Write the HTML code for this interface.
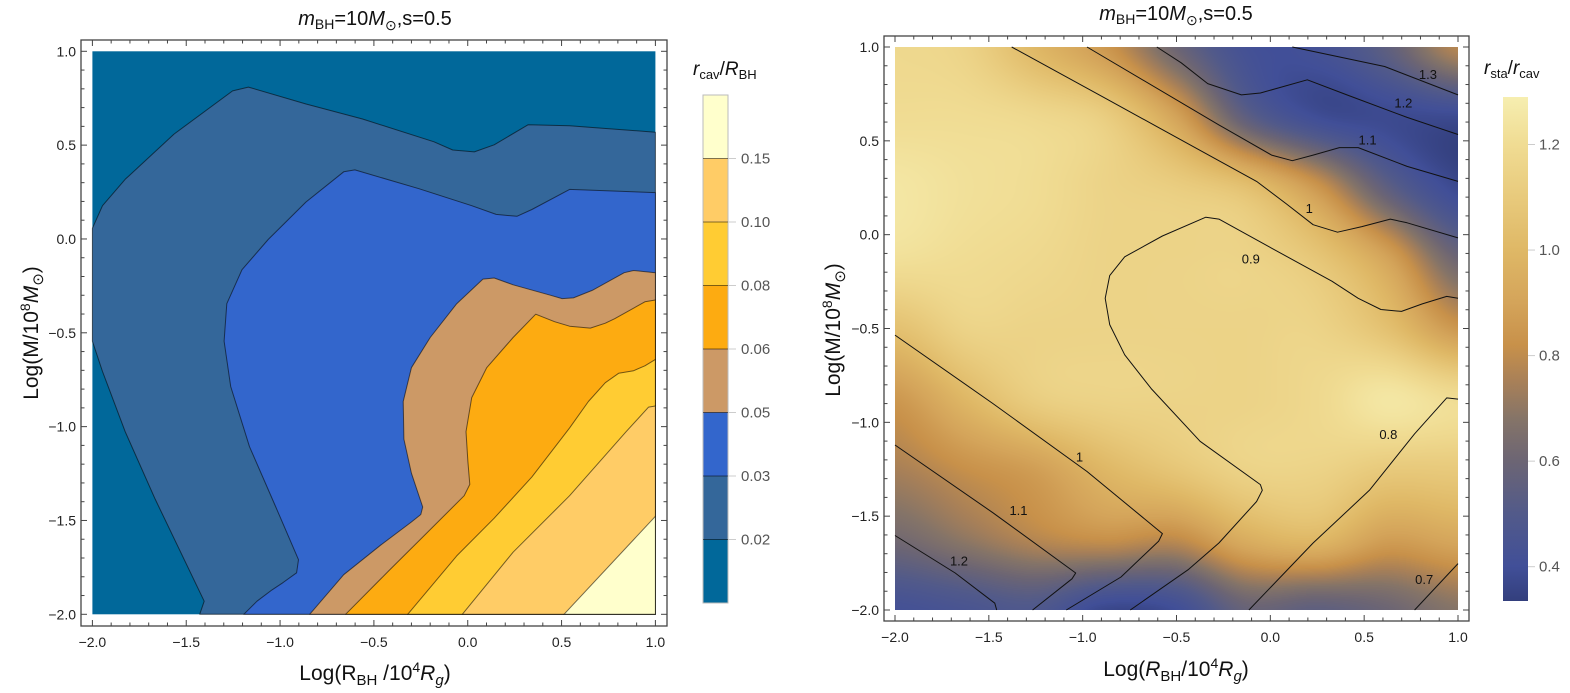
<!DOCTYPE html>
<html><head><meta charset="utf-8">
<style>
html,body{margin:0;padding:0;background:#fff;}
#wrap{position:relative;width:1570px;height:693px;overflow:hidden;font-family:"Liberation Sans",Arial,sans-serif;}
#heat{position:absolute;left:895px;top:47px;width:563px;height:563px;}
#svg{position:absolute;left:0;top:0;}
</style></head>
<body>
<div id="wrap">
<canvas id="heat" width="563" height="563"></canvas>
<svg id="svg" width="1570" height="693" xmlns="http://www.w3.org/2000/svg"></svg>
</div>
<script>
// ---------- LEFT PANEL DATA (contour boundaries, data coords [logR, logM]) ----------
const leftLevels = ["0.02","0.03","0.05","0.06","0.08","0.10","0.15"];
const leftColors = ["#01689a","#34679a","#3366cc","#cc9966","#fdab11","#ffcc33","#ffcc66","#ffffcc"];
const bnd002Upper = [[-2,0.057],[-1.946,0.177],[-1.825,0.318],[-1.565,0.559],[-1.253,0.789],[-1.169,0.809],[-0.862,0.719],[-0.561,0.639],[-0.18,0.518],[-0.08,0.474],[0.035,0.464],[0.141,0.502],[0.322,0.609],[0.543,0.603],[1,0.569]];
const bnd002Lower = [[-1.428,-2],[-1.404,-1.93],[-1.665,-1.388],[-1.825,-1.027],[-1.946,-0.706],[-2,-0.545]];
const bnd003 = [[1,0.247],[0.543,0.264],[0.342,0.157],[0.262,0.121],[0.151,0.131],[0.021,0.177],[-0.26,0.268],[-0.601,0.368],[-0.661,0.358],[-0.862,0.197],[-1.063,-0.003],[-1.203,-0.164],[-1.284,-0.345],[-1.298,-0.545],[-1.263,-0.786],[-1.163,-1.107],[-1.023,-1.428],[-0.902,-1.709],[-0.912,-1.779],[-0.983,-1.83],[-1.043,-1.87],[-1.123,-1.93],[-1.193,-2]];
const bnd005 = [[1,-0.18],[0.884,-0.168],[0.834,-0.18],[0.663,-0.274],[0.563,-0.314],[0.503,-0.318],[0.442,-0.3],[0.242,-0.244],[0.141,-0.208],[0.081,-0.214],[-0.059,-0.345],[-0.2,-0.525],[-0.3,-0.686],[-0.344,-0.866],[-0.34,-1.067],[-0.3,-1.248],[-0.24,-1.428],[-0.25,-1.468],[-0.3,-1.508],[-0.461,-1.629],[-0.661,-1.789],[-0.842,-2]];
const bnd006 = [[1,-0.325],[0.944,-0.335],[0.783,-0.425],[0.733,-0.449],[0.653,-0.475],[0.543,-0.465],[0.463,-0.441],[0.362,-0.401],[0.242,-0.525],[0.101,-0.686],[0.021,-0.846],[-0.009,-1.027],[0.001,-1.187],[0.011,-1.308],[-0.019,-1.368],[-0.26,-1.609],[-0.421,-1.769],[-0.651,-2]];
const bnd008 = [[1,-0.642],[0.944,-0.676],[0.884,-0.702],[0.804,-0.716],[0.733,-0.766],[0.643,-0.866],[0.543,-1.007],[0.342,-1.268],[0.141,-1.488],[-0.059,-1.689],[-0.32,-2]];
const bnd010 = [[1,-0.89],[0.964,-0.896],[0.844,-1.027],[0.543,-1.368],[0.242,-1.669],[-0.029,-2]];
const bnd015 = [[1,-1.478],[0.513,-2]];

// ---------- RIGHT PANEL DATA ----------
const heatXs = [-2,-1.625,-1.25,-0.875,-0.5,-0.125,0.25,0.625,1];
const heatYs = [1,0.625,0.25,-0.125,-0.5,-0.875,-1.25,-1.625,-2];
const heatRow0 = [1.18,1.15,1.0,0.85,0.6,0.42,0.42,0.55,0.78];
const heatRow1 = [1.2,1.2,1.18,1.12,0.9,0.55,0.4,0.38,0.38];
const heatRow2 = [1.25,1.22,1.2,1.15,1.12,1.05,0.85,0.55,0.38];
const heatRow3 = [1.22,1.2,1.18,1.15,1.15,1.15,1.08,0.9,0.6];
const heatRow4 = [1.05,1.15,1.15,1.15,1.15,1.15,1.15,1.05,0.85];
const heatRow5 = [0.85,1.0,1.12,1.15,1.15,1.15,1.18,1.25,1.2];
const heatRow6 = [0.75,0.82,0.88,1.0,1.08,1.15,1.15,1.1,1.1];
const heatRow7 = [0.62,0.7,0.78,0.82,0.8,0.95,1.0,0.88,0.92];
const heatRow8 = [0.42,0.45,0.48,0.37,0.4,0.58,0.55,0.6,0.68];
const heatRows = [heatRow0,heatRow1,heatRow2,heatRow3,heatRow4,heatRow5,heatRow6,heatRow7,heatRow8];
const cmapVals = [0.335,0.4,0.5,0.6,0.68,0.75,0.82,0.9,1.0,1.1,1.2,1.29];
const cmapCols = ["#333f7d","#414f98","#525a8a","#6c6574","#857468","#a88058","#c8914a","#d4a45a","#dfb866","#e8ca7c","#f0dc93","#f6eeb0"];
const cbTicks = [0.4,0.6,0.8,1.0,1.2];

const c13 = [[0.117,1],[0.609,0.896],[1,0.745]];
const c12a = [[-0.605,1],[-0.475,0.916],[-0.334,0.805],[-0.154,0.745],[-0.053,0.755],[0.197,0.825],[0.408,0.745],[0.729,0.625],[1,0.534]];
const c11a = [[-0.977,1],[-0.274,0.585],[0.007,0.424],[0.117,0.394],[0.228,0.424],[0.368,0.464],[0.468,0.464],[0.729,0.364],[1,0.284]];
const c10a = [[-1.378,1],[-0.876,0.725],[-0.073,0.284],[0.087,0.163],[0.228,0.053],[0.358,0.013],[0.488,0.043],[0.639,0.083],[0.729,0.063],[1,-0.017]];
const c09 = [[1,-0.339],[0.94,-0.329],[0.81,-0.369],[0.699,-0.409],[0.589,-0.399],[0.468,-0.339],[0.328,-0.248],[0.127,-0.138],[-0.274,0.083],[-0.344,0.093],[-0.575,-0.007],[-0.776,-0.118],[-0.856,-0.218],[-0.88,-0.339],[-0.856,-0.479],[-0.776,-0.64],[-0.635,-0.82],[-0.374,-1.101],[-0.053,-1.332],[-0.043,-1.362],[-0.073,-1.422],[-0.274,-1.643],[-0.435,-1.783],[-0.746,-2]];
const c08 = [[1,-0.876],[0.94,-0.87],[0.769,-1.061],[0.528,-1.362],[0.228,-1.643],[-0.114,-2]];
const c07 = [[1,-1.753],[0.769,-2]];
const c10b = [[-2,-0.535],[-1.478,-0.9],[-0.977,-1.262],[-0.575,-1.593],[-0.595,-1.633],[-0.796,-1.824],[-1.087,-2]];
const c11b = [[-2,-1.121],[-1.478,-1.482],[-1.037,-1.803],[-1.057,-1.834],[-1.267,-2]];
const c12b = [[-2,-1.603],[-1.679,-1.803],[-1.468,-1.964],[-1.458,-2]];
const rightContours = [c13,c12a,c11a,c10a,c09,c08,c07,c10b,c11b,c12b];
const labelTexts = ["1.3","1.2","1.1","1","0.9","0.8","0.7","1","1.1","1.2"];
const labelPos = [[0.84,0.855],[0.709,0.705],[0.518,0.508],[0.207,0.143],[-0.104,-0.128],[0.629,-1.061],[0.82,-1.834],[-1.017,-1.181],[-1.342,-1.466],[-1.659,-1.737]];

const majorTicks = [-2,-1.5,-1,-0.5,0,0.5,1];
const majorLabels = ["\u22122.0","\u22121.5","\u22121.0","\u22120.5","0.0","0.5","1.0"];

// ---------- helpers ----------
const NS="http://www.w3.org/2000/svg";
const svg=document.getElementById('svg');
function mk(tag,attrs,parent){const e=document.createElementNS(NS,tag);for(const k in attrs)e.setAttribute(k,attrs[k]);(parent||svg).appendChild(e);return e;}
function axes(x0,y0,size){return {X:x=>x0+(x+2)/3*size,Y:y=>y0+(1-y)/3*size};}
function pts(arr,ax){return arr.map(p=>ax.X(p[0]).toFixed(1)+","+ax.Y(p[1]).toFixed(1)).join(" ");}

function frame(ax,fx0,fy0,fx1,fy1,g){
  const r=mk('rect',{x:fx0,y:fy0,width:fx1-fx0,height:fy1-fy0,fill:'none',stroke:'#444','stroke-width':1.3},g);
  
  for(let i=0;i<=30;i++){
    const v=-2+i*0.1, major=(i%5===0), L=major?6:3.5;
    const x=ax.X(v), y=ax.Y(v);
    mk('line',{x1:x,x2:x,y1:fy1,y2:fy1-L,stroke:'#444','stroke-width':1},g);
    mk('line',{x1:x,x2:x,y1:fy0,y2:fy0+L,stroke:'#444','stroke-width':1},g);
    mk('line',{x1:fx0,x2:fx0+L,y1:y,y2:y,stroke:'#444','stroke-width':1},g);
    mk('line',{x1:fx1,x2:fx1-L,y1:y,y2:y,stroke:'#444','stroke-width':1},g);
  }
  majorTicks.forEach((v,i)=>{
    const t=mk('text',{x:ax.X(v),y:fy1+21,'text-anchor':'middle','font-size':14,fill:'#222'},g);
    
    t.textContent=majorLabels[i];
    const u=mk('text',{x:fx0-5,y:ax.Y(v)+5,'text-anchor':'end','font-size':14,fill:'#222'},g);
    
    u.textContent=majorLabels[i];
  });
}

// ---------- LEFT PANEL ----------
const axL=axes(92.4,51.3,563);
const gL=mk('g',{});
mk('rect',{x:axL.X(-2),y:axL.Y(1),width:563,height:563,fill:leftColors[0]},gL);
const corner=[[1,-2]];
const regions=[
  bnd002Upper.concat([[1,-2]]).concat(bnd002Lower),
  bnd003.concat(corner), bnd005.concat(corner), bnd006.concat(corner),
  bnd008.concat(corner), bnd010.concat(corner), bnd015.concat(corner)
];
regions.forEach((reg,i)=>{
  const p=mk('polygon',{points:pts(reg,axL),fill:leftColors[i+1],stroke:'rgba(0,0,0,0.55)','stroke-width':1,'stroke-linejoin':'round'},gL);
  
  
});
frame(axL,81,40,667,626,gL);

// left colorbar
const gCB=mk('g',{});
const cbTop=95, cbH=63.5;
for(let i=0;i<8;i++){
  const r=mk('rect',{x:703,y:cbTop+i*cbH,width:25,height:cbH,fill:leftColors[7-i],stroke:'none'},gCB);
  
}
mk('rect',{x:703,y:cbTop,width:25,height:8*cbH,fill:'none',stroke:'#bbb','stroke-width':1},gCB);
const leftLabelsDesc=leftLevels.slice().reverse();
leftLabelsDesc.forEach((lab,i)=>{
  const y=cbTop+(i+1)*cbH;
  mk('line',{x1:703,x2:728,y1:y,y2:y,stroke:'rgba(0,0,0,0.5)','stroke-width':1},gCB);
  mk('line',{x1:728,x2:736,y1:y,y2:y,stroke:'#ccc','stroke-width':1},gCB);
  const t=mk('text',{x:741,y:y+5,'font-size':15,fill:'#555'},gCB);
  
  t.textContent=lab;
});

// ---------- RIGHT PANEL ----------
const axR=axes(895,47,563);
function hexToRgb(h){return [parseInt(h.slice(1,3),16),parseInt(h.slice(3,5),16),parseInt(h.slice(5,7),16)];}
const cmapRgb=cmapCols.map(hexToRgb);
function cmap(v){
  if(v<=cmapVals[0])return cmapRgb[0];
  for(let i=1;i<cmapVals.length;i++){
    if(v<=cmapVals[i]){const t=(v-cmapVals[i-1])/(cmapVals[i]-cmapVals[i-1]);const a=cmapRgb[i-1],b=cmapRgb[i];return [a[0]+(b[0]-a[0])*t,a[1]+(b[1]-a[1])*t,a[2]+(b[2]-a[2])*t];}
  }
  return cmapRgb[cmapRgb.length-1];
}
function cr(p0,p1,p2,p3,t){return 0.5*((2*p1)+(-p0+p2)*t+(2*p0-5*p1+4*p2-p3)*t*t+(-p0+3*p1-3*p2+p3)*t*t*t);}
(function(){
  const cv=document.getElementById('heat');const ctx=cv.getContext('2d');
  const W=563,img=ctx.createImageData(W,W);
  const nx=heatXs.length-1, ny=heatYs.length-1;
  const g=(j,i)=>heatRows[Math.max(0,Math.min(ny,j))][Math.max(0,Math.min(nx,i))];
  for(let py=0;py<W;py++){
    const fy=py/(W-1)*ny; const j=Math.min(Math.floor(fy),ny-1); const ty=fy-j;
    for(let px=0;px<W;px++){
      const fx=px/(W-1)*nx; const i=Math.min(Math.floor(fx),nx-1); const tx=fx-i;
      const r=[];
      for(let m=-1;m<=2;m++) r.push(cr(g(j+m,i-1),g(j+m,i),g(j+m,i+1),g(j+m,i+2),tx));
      const v=cr(r[0],r[1],r[2],r[3],ty);
      const c=cmap(v);const k=(py*W+px)*4;
      img.data[k]=c[0];img.data[k+1]=c[1];img.data[k+2]=c[2];img.data[k+3]=255;
    }
  }
  ctx.putImageData(img,0,0);
})();
const gR=mk('g',{});
rightContours.forEach((c,i)=>{
  const p=mk('polyline',{points:pts(c,axR),fill:'none',stroke:'#111','stroke-width':1,'stroke-linejoin':'round'},gR);
  
  
});
labelPos.forEach((p,i)=>{
  const t=mk('text',{x:axR.X(p[0]),y:axR.Y(p[1])+5,'text-anchor':'middle','font-size':13,fill:'#111'},gR);
  
  t.textContent=labelTexts[i];
});
frame(axR,884,36,1469,621,gR);

// right colorbar
const gCB2=mk('g',{});
const defs=mk('defs',{});
const lg=mk('linearGradient',{id:'cbgrad',x1:0,y1:1,x2:0,y2:0},defs);
const cbMin=0.335,cbMax=1.29,cbT=97,cbB=601;
cmapVals.forEach((v,i)=>{mk('stop',{offset:((v-cbMin)/(cbMax-cbMin)).toFixed(3),'stop-color':cmapCols[i]},lg);});
mk('rect',{x:1503,y:cbT,width:25,height:cbB-cbT,fill:'url(#cbgrad)'},gCB2);
const cbY=v=>cbB-(v-cbMin)/(cbMax-cbMin)*(cbB-cbT);
cbTicks.forEach(v=>{
  const y=cbY(v);
  mk('line',{x1:1528,x2:1535,y1:y,y2:y,stroke:'#ccc','stroke-width':1},gCB2);
  const t=mk('text',{x:1539,y:y+5,'font-size':15,fill:'#555'},gCB2);
  
  t.textContent=v.toFixed(1);
});

// ---------- titles & axis labels ----------
function addHTML(markup){const g=mk('g',{});g.innerHTML=markup;return g;}
addHTML(`
<text x="375" y="25" text-anchor="middle" font-size="20" fill="#111"><tspan font-style="italic">m</tspan><tspan font-size="14" dy="4">BH</tspan><tspan dy="-4">=10</tspan><tspan font-style="italic">M</tspan><tspan font-size="14" dy="5">⊙</tspan><tspan dy="-5">,s=0.5</tspan></text>
<text x="1176" y="20" text-anchor="middle" font-size="20" fill="#111"><tspan font-style="italic">m</tspan><tspan font-size="14" dy="4">BH</tspan><tspan dy="-4">=10</tspan><tspan font-style="italic">M</tspan><tspan font-size="14" dy="5">⊙</tspan><tspan dy="-5">,s=0.5</tspan></text>
<text x="375" y="680" text-anchor="middle" font-size="21" fill="#111">Log(R<tspan font-size="15" dy="5">BH</tspan><tspan dy="-5"> /10</tspan><tspan font-size="14" dy="-8">4</tspan><tspan font-style="italic" dy="8">R</tspan><tspan font-size="15" font-style="italic" dy="5">g</tspan><tspan dy="-5">)</tspan></text>
<text x="1176" y="676" text-anchor="middle" font-size="21" fill="#111">Log(<tspan font-style="italic">R</tspan><tspan font-size="15" dy="5">BH</tspan><tspan dy="-5">/10</tspan><tspan font-size="14" dy="-8">4</tspan><tspan font-style="italic" dy="8">R</tspan><tspan font-size="15" font-style="italic" dy="5">g</tspan><tspan dy="-5">)</tspan></text>
<text transform="translate(38,333) rotate(-90)" text-anchor="middle" font-size="21" fill="#111">Log(M/10<tspan font-size="14" dy="-8">8</tspan><tspan font-style="italic" dy="8">M</tspan><tspan font-size="15" dy="5">⊙</tspan><tspan dy="-5">)</tspan></text>
<text transform="translate(840,330) rotate(-90)" text-anchor="middle" font-size="21" fill="#111">Log(M/10<tspan font-size="14" dy="-8">8</tspan><tspan font-style="italic" dy="8">M</tspan><tspan font-size="15" dy="5">⊙</tspan><tspan dy="-5">)</tspan></text>
<text x="693" y="75" font-size="19" fill="#111"><tspan font-style="italic">r</tspan><tspan font-size="13" dy="4">cav</tspan><tspan dy="-4">/</tspan><tspan font-style="italic">R</tspan><tspan font-size="13" dy="4">BH</tspan></text>
<text x="1484" y="74" font-size="19" fill="#111"><tspan font-style="italic">r</tspan><tspan font-size="13" dy="4">sta</tspan><tspan dy="-4">/</tspan><tspan font-style="italic">r</tspan><tspan font-size="13" dy="4">cav</tspan></text>
`);
</script>
</body></html>
